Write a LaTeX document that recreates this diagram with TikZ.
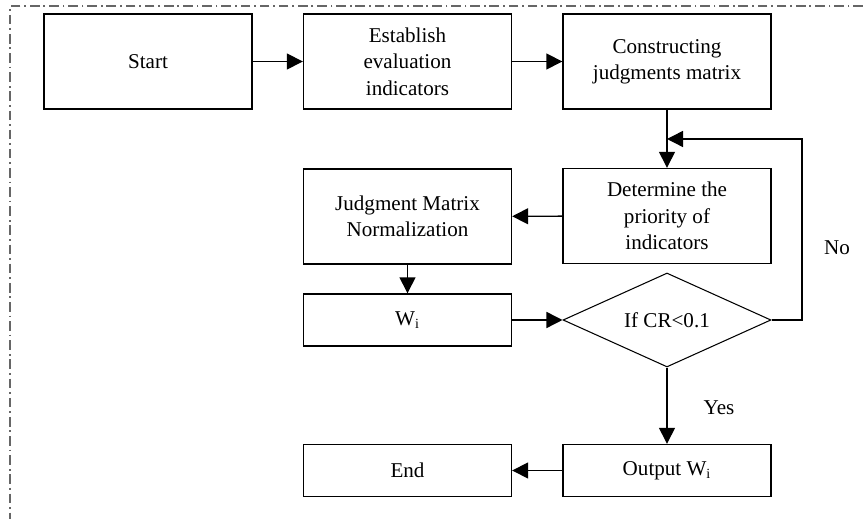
\documentclass[tikz,border=0pt]{standalone}
\usepackage{fontspec}
\setmainfont{Liberation Serif}
\usetikzlibrary{positioning,arrows.meta,shapes.geometric}

\begin{document}
\begin{tikzpicture}[x=0.02cm, y=-0.02cm,
        b/.style={draw, line width=0.8pt, align=center, font=\fontsize{12}{15}\selectfont, minimum width=4.16cm, minimum height=1.9cm, inner sep=2pt},
        bs/.style={b, minimum height=1.04cm},
        dec/.style={draw, diamond, line width=0.6pt, font=\fontsize{12}{15}\selectfont, aspect=2.2, inner sep=0pt, minimum width=4.16cm, minimum height=1.88cm},
        lbl/.style={font=\fontsize{12}{15}\selectfont},
        arr/.style={-{Triangle[length=3.2mm, width=3.2mm]}, line width=0.8pt}]
      \useasboundingbox (0,0) rectangle (863,519);
      % frame: top and left only
      \draw[gray!80!black, line width=0.6pt, dash pattern=on 5.5pt off 2.2pt on 1pt off 2.2pt]
        (863,6) -- (10,6) -- (10,519);
      \node[b] (start) at (148,61.5) {Start};
      \node[b] (est) at (407.5,61.5) {Establish\\evaluation\\indicators};
      \node[b] (cons) at (667,61.5) {Constructing\\judgments matrix};
      \node[b] (prio) at (667,216) {Determine the\\priority of\\indicators};
      \node[b] (norm) at (407.5,216.5) {Judgment Matrix\\Normalization};
      \node[bs] (w) at (407.5,320) {W\textsubscript{i}};
      \node[dec] (cr) at (667,320) {If CR<0.1};
      \node[bs] (out) at (667,470.5) {Output W\textsubscript{i}};
      \node[bs] (end) at (407.5,470.5) {End};
      \node[lbl] (no) at (837,248) {No};
      \node[lbl] (yes) at (719,408) {Yes};
      \coordinate (fb) at (802,139);
      \coordinate (join) at (667,139);
      \draw[arr] (start) -- (est); \draw[arr] (est) -- (cons);
      \draw[arr] (cons) -- (prio); \draw[arr] (prio) -- (norm);
      \draw[arr] (norm) -- (w); \draw[arr] (w) -- (cr);
      \draw[arr] (cr) -- (out); \draw[arr] (out) -- (end);
      \draw[arr] (cr.east) -| (fb) -- (join);
      \end{tikzpicture}
\end{document}
